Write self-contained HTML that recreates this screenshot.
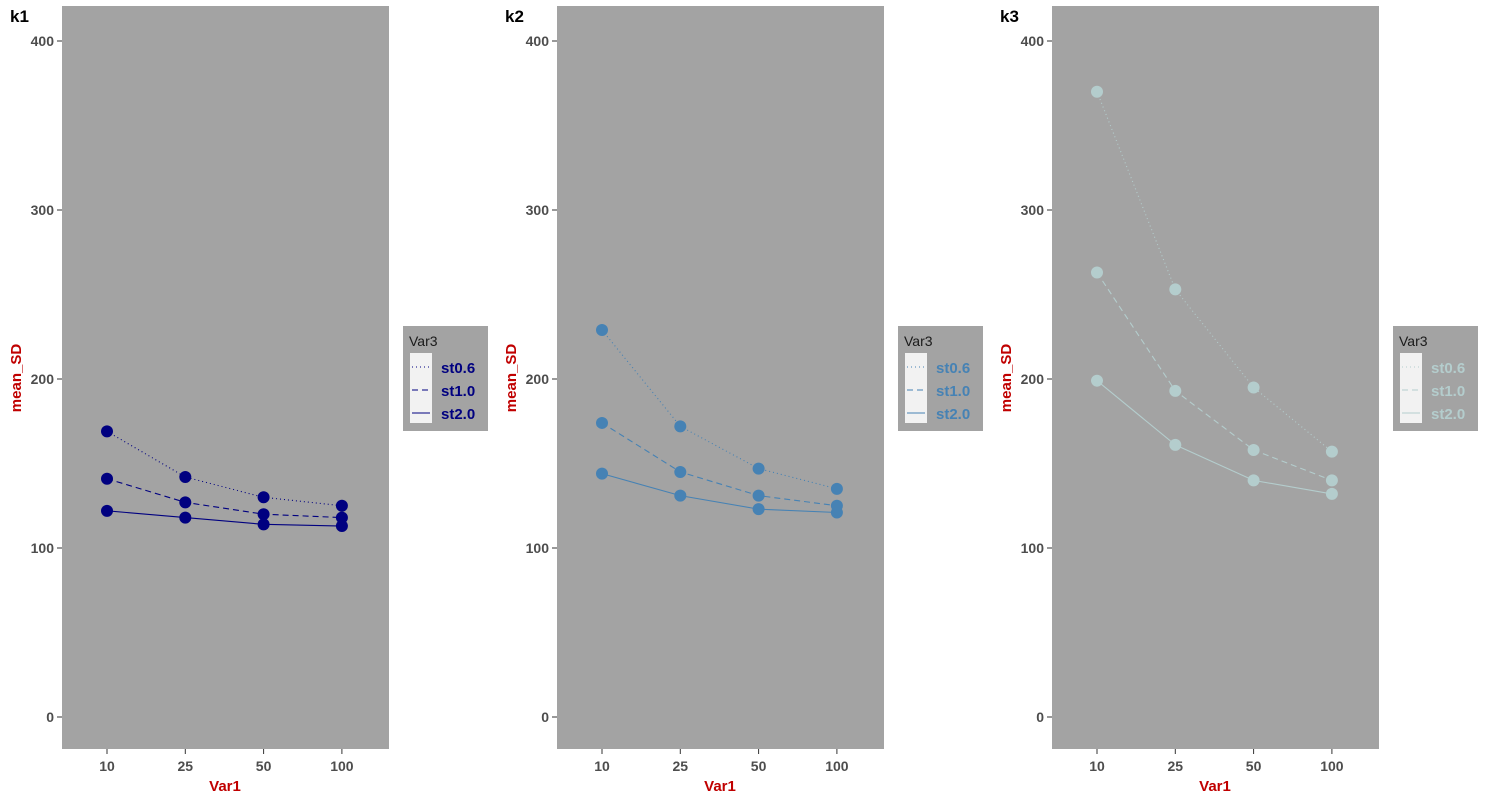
<!DOCTYPE html>
<html><head><meta charset="utf-8"><style>
body{margin:0;background:#fff;font-family:"Liberation Sans",sans-serif}
svg text{font-family:"Liberation Sans",sans-serif}
</style></head><body>
<svg id="c" width="1486" height="801" xmlns="http://www.w3.org/2000/svg"></svg>
<script>
const categories=["10","25","50","100"];
const series=["st0.6","st1.0","st2.0"];
const k1_st06=[169,142,130,125];
const k1_st10=[141,127,120,118];
const k1_st20=[122,118,114,113];
const k2_st06=[229,172,147,135];
const k2_st10=[174,145,131,125];
const k2_st20=[144,131,123,121];
const k3_st06=[370,253,195,157];
const k3_st10=[263,193,158,140];
const k3_st20=[199,161,140,132];
const yTicks=[0,100,200,300,400];
const panelTitles=["k1","k2","k3"];
const colors=["#000080","#4682B4","#B4CDCD"];
const panels=[[k1_st06,k1_st10,k1_st20],[k2_st06,k2_st10,k2_st20],[k3_st06,k3_st10,k3_st20]];
const dashes=["1,3","6,4",""];
const svg=document.getElementById('c');
const NS="http://www.w3.org/2000/svg";
function mk(t,a,p){const e=document.createElementNS(NS,t);for(const k in a)e.setAttribute(k,a[k]);(p||svg).appendChild(e);return e;}
const y=v=>717-v*1.69;
panels.forEach((pd,pi)=>{
  const ox=pi*495;
  const x=i=>ox+107+i*78.3;
  const g=mk('g',{});
  
  
  const bg=mk('rect',{x:ox+62,y:6,width:327,height:743,fill:'#A3A3A3'},g);
  
  
  const t=mk('text',{x:ox+10,y:22,'font-size':17,'font-weight':'bold',fill:'#000'},g);t.textContent=panelTitles[pi];
  
  
  yTicks.forEach(v=>{const tt=mk('text',{x:ox+54,y:y(v)+5,'font-size':14,'font-weight':'bold',fill:'#4D4D4D','text-anchor':'end'},g);tt.textContent=v;
    
    
    mk('line',{x1:ox+57,x2:ox+62,y1:y(v),y2:y(v),stroke:'#333'},g);});
  categories.forEach((c,i)=>{const tt=mk('text',{x:x(i),y:771,'font-size':14,'font-weight':'bold',fill:'#4D4D4D','text-anchor':'middle'},g);tt.textContent=c;
    
    
    mk('line',{x1:x(i),x2:x(i),y1:749,y2:754,stroke:'#333'},g);});
  const xt=mk('text',{x:ox+225,y:791,'font-size':15,'font-weight':'bold',fill:'#C00000','text-anchor':'middle'},g);xt.textContent='Var1';
  
  
  const yt=mk('text',{x:0,y:0,'font-size':15,'font-weight':'bold',fill:'#C00000','text-anchor':'middle',transform:`translate(${ox+21},378) rotate(-90)`},g);yt.textContent='mean_SD';
  
  
  pd.forEach((vals,si)=>{
    const pl=mk('polyline',{points:vals.map((v,i)=>x(i)+','+y(v)).join(' '),fill:'none',stroke:colors[pi],'stroke-width':1.1,'stroke-dasharray':dashes[si]},g);
    
    
    vals.forEach((v,i)=>{const c=mk('circle',{cx:x(i),cy:y(v),r:6,fill:colors[pi]},g);
      
      });
  });
  const lg=mk('g',{},g);
  
  
  mk('rect',{x:ox+403,y:326,width:85,height:105,fill:'#A3A3A3'},lg);
  const lt=mk('text',{x:ox+409,y:346,'font-size':14,fill:'#1a1a1a'},lg);lt.textContent='Var3';
  mk('rect',{x:ox+410,y:353,width:22,height:70,fill:'#F2F2F2'},lg);
  series.forEach((s,si)=>{const yy=367+si*23;
    mk('line',{x1:ox+412,x2:ox+430,y1:yy,y2:yy,stroke:colors[pi],'stroke-width':1.1,'stroke-dasharray':dashes[si]},lg);
    const e=mk('text',{x:ox+441,y:yy+6,'font-size':15,'font-weight':'bold',fill:colors[pi]},lg);e.textContent=s;
    
    });
});
</script>
</body></html>
